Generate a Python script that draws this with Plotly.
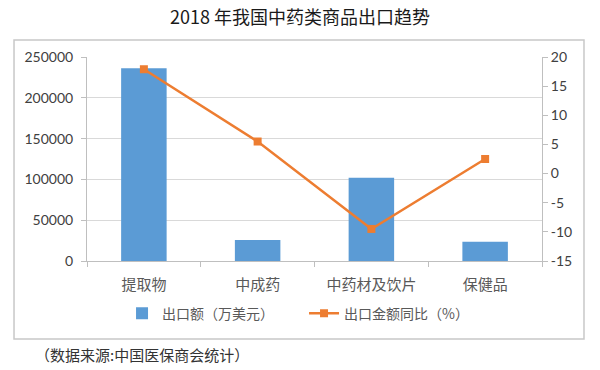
import plotly.graph_objects as go

categories = ["提取物", "中成药", "中药材及饮片", "保健品"]
export_value = [236200, 25600, 102000, 23500]   # 出口额（万美元）
yoy_growth = [17.9, 5.5, -9.5, 2.5]             # 出口金额同比（%）

left_ticks = [0, 50000, 100000, 150000, 200000, 250000]
right_ticks = [-15, -10, -5, 0, 5, 10, 15, 20]

num_font = "Lato, 'DejaVu Sans', sans-serif"
cjk_font = "'Noto Sans CJK SC', sans-serif"

fig = go.Figure()
fig.add_trace(go.Bar(
    x=categories, y=export_value, name="出口额（万美元）",
    marker=dict(color="#5B9BD5", line=dict(width=0)), width=0.4,
))
fig.add_trace(go.Scatter(
    x=categories, y=yoy_growth, name="出口金额同比（%）", yaxis="y2",
    mode="lines+markers", line=dict(color="#ED7D31", width=2.5),
    marker=dict(symbol="square", size=8, color="#ED7D31"),
))

axis_col = "#BFBFBF"
fig.update_layout(
    width=600, height=370,
    margin=dict(l=87, r=58, t=57, b=109, autoexpand=False),
    paper_bgcolor="white", plot_bgcolor="white",
    showlegend=True,
    title=dict(text="2018 年我国中药类商品出口趋势", x=0.5, xanchor="center",
               y=1 - 18 / 370, yanchor="middle",
               font=dict(family=cjk_font, size=18, color="#1a1a1a")),
    xaxis=dict(
        showline=True, linecolor=axis_col, linewidth=1,
        ticks="outside", tickson="boundaries", ticklen=5, tickcolor=axis_col,
        tickfont=dict(family=cjk_font, size=15, color="#595959"),
        ticklabelstandoff=10,
        showgrid=False,
    ),
    yaxis=dict(
        range=[0, 250000], tickvals=left_ticks, ticktext=[str(v) for v in left_ticks],
        showgrid=True, gridcolor="#D9D9D9", gridwidth=1,
        showline=True, linecolor=axis_col, ticks="outside", ticklen=5, tickcolor=axis_col,
        tickfont=dict(family=num_font, size=14, color="#404040"),
        ticklabelstandoff=5,
        zeroline=False,
    ),
    yaxis2=dict(
        overlaying="y", side="right", range=[-15, 20], tickvals=right_ticks,
        ticktext=[str(v) for v in right_ticks],
        showgrid=False, zeroline=False,
        showline=True, linecolor=axis_col, ticks="outside", ticklen=5, tickcolor=axis_col,
        tickfont=dict(family=num_font, size=14, color="#404040"),
    ),
    legend=dict(
        orientation="h", x=0.077, xanchor="left", y=-0.18, yanchor="top",
        font=dict(family=cjk_font, size=14, color="#595959"),
        entrywidth=137, itemwidth=30,
    ),
    shapes=[dict(
        type="rect", xref="paper", yref="paper",
        x0=-0.1604, x1=1.0923, y0=-0.382, y1=1.083,
        line=dict(color="#C8C8C8", width=1.5), layer="below",
    )],
    annotations=[dict(
        text="（数据来源:中国医保商会统计）", xref="paper", yref="paper",
        x=-0.118, xanchor="left", y=-0.46, yanchor="middle", showarrow=False,
        font=dict(family="'Noto Sans CJK SC', serif", size=15, color="#333333"),
    )],
)

fig.write_html("out.html", config={"displayModeBar": False},
               post_script="document.body.style.margin='0';")
